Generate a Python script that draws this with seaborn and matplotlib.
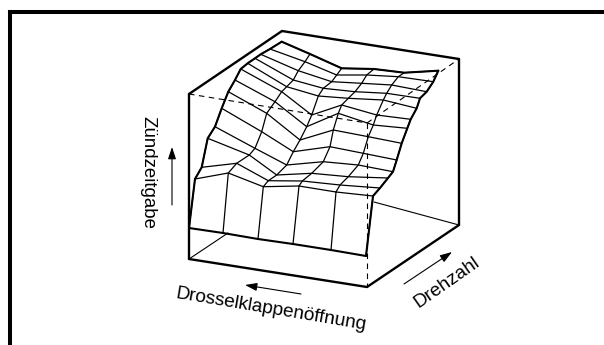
import pandas as pd
import seaborn as sns
import matplotlib.pyplot as plt

# Knoten der Flaeche (Bildkoordinaten)
# eine Liste pro Drosselklappen-Stufe, von hinten nach vorne
col_x = [
    [281.7, 270, 260.7, 255, 247.7, 240.7, 235, 228.3, 221.7, 215, 207.7, 201.7, 195],
    [310, 305, 298.3, 293.3, 286.7, 281.7, 275, 266.7, 261.7, 255, 249.3, 236.7, 228.3],
    [341.7, 336.7, 331.7, 323.3, 318.3, 311.7, 306.7, 300, 293.3, 286.7, 276.7, 268.3, 263.3],
    [374, 366.7, 361.7, 355, 348.3, 341.7, 338.3, 333.3, 330, 323.3, 311.7, 302.3, 299],
    [404.3, 398.3, 391.7, 386.7, 383.3, 376.7, 373.3, 368.3, 363.3, 358.3, 348.3, 340, 336],
    [438.3, 433.3, 426.7, 420, 416.7, 410.7, 407.3, 401.7, 396.7, 393, 388, 380, 373],
]
col_y = [
    [41.7, 49, 54.3, 58.3, 63.3, 69, 80, 91.7, 108.3, 126.7, 138.3, 167.3, 179],
    [54, 61.7, 70.7, 80, 86.7, 91.7, 101.7, 113.3, 131.7, 148.3, 155, 163.3, 173],
    [68.3, 75, 81.7, 88.3, 96, 115, 126.7, 140, 151.7, 165, 175, 180.7, 186.7],
    [69, 75, 83.3, 91.7, 98.3, 105, 113.3, 130, 146.7, 161.7, 173.3, 181, 186],
    [72.7, 76.7, 85, 93.3, 100, 115, 125, 136.7, 153.3, 165, 176.7, 185, 192],
    [70.7, 81.7, 91.7, 98.3, 108.3, 119.3, 128.3, 143.3, 160, 171.7, 178, 188, 196],
]
# Unterkante der Vorderwand
base_x = [189, 223, 258, 293, 331, 366]
base_y = [228, 233, 239, 244, 250, 256]

# Kanten des Wuerfels
solid_edges = [
    ([189, 189], [94, 259]), ([189, 282], [94, 31]), ([282, 459], [31, 59]),
    ([459, 459], [59, 225]), ([189, 367], [259, 287]), ([367, 459], [287, 225]),
]
thin_edges = [([189, 228], [259, 233]), ([374, 459], [202, 225])]
dash_edges = [([189, 367], [94, 123]), ([367, 459], [123, 59]), ([367, 367], [123, 287])]

rows = []
n = 0
for cx, cy in zip(col_x, col_y):
    for x, y in zip(cx, cy):
        rows.append({'linie': n, 'x': x, 'y': y})
    n += 1
for r in range(len(col_x[0])):
    for cx, cy in zip(col_x, col_y):
        rows.append({'linie': n, 'x': cx[r], 'y': cy[r]})
    n += 1
df_netz = pd.DataFrame(rows)

rows = []
for i, (bx, by) in enumerate(zip(base_x, base_y)):
    rows.append({'linie': i, 'x': bx, 'y': by})
    rows.append({'linie': i, 'x': col_x[i][-1], 'y': col_y[i][-1]})
df_wand = pd.DataFrame(rows)

sns.set_theme(style='white')
plt.rcParams['font.family'] = ['Liberation Sans', 'DejaVu Sans']

fig = plt.figure(figsize=(6.04, 3.45), dpi=100)
ax = fig.add_axes([0, 0, 1, 1])


def kanten(edges, **kw):
    for ex, ey in edges:
        sns.lineplot(x=ex, y=ey, sort=False, estimator=None, color='black', ax=ax, **kw)


# Rahmen
kanten([([9.5, 9.5], [12, 345]), ([9.5, 604], [12, 12])], linewidth=2.9, solid_capstyle='projecting')

kanten(solid_edges, linewidth=1.7)
kanten(thin_edges, linewidth=0.8)
kanten(dash_edges, linewidth=0.8, linestyle=(0, (5, 4)))

sns.lineplot(data=df_netz, x='x', y='y', units='linie', estimator=None, sort=False,
             color='black', linewidth=0.9, ax=ax)
sns.lineplot(data=df_wand, x='x', y='y', units='linie', estimator=None, sort=False,
             color='black', linewidth=0.9, ax=ax)

# kraeftige Kanten der Flaeche
kanten([(col_x[0], col_y[0]), (col_x[-1], col_y[-1]),
        ([c[0] for c in col_x], [c[0] for c in col_y]),
        (base_x, base_y),
        ([base_x[0], col_x[0][-1]], [base_y[0], col_y[0][-1]]),
        ([base_x[-1], col_x[-1][-1]], [base_y[-1], col_y[-1][-1]])], linewidth=1.5)

# Pfeile
for (x0, y0), (x1, y1) in [((172, 205), (172, 147)), ((301, 294), (245, 285)), ((404, 284), (452, 252))]:
    ax.annotate('', xy=(x1, y1), xytext=(x0, y0),
                arrowprops=dict(arrowstyle='-|>,head_length=0.6,head_width=0.2', color='black',
                                lw=0.8, shrinkA=0, shrinkB=0))

ax.text(148, 173, 'Zündzeitgabe', rotation=-90, ha='center', va='center', fontsize=13.4, color='black')
ax.text(271, 310, 'Drosselklappenöffnung', rotation=-9.5, ha='center', va='center', fontsize=13.7,
        color='black', rotation_mode='anchor')
ax.text(447, 283, 'Drehzahl', rotation=35, ha='center', va='center', fontsize=13.7, color='black',
        rotation_mode='anchor')

ax.set_xlim(0, 604)
ax.set_ylim(345, 0)
ax.axis('off')
fig.savefig('out.png', dpi=100)
